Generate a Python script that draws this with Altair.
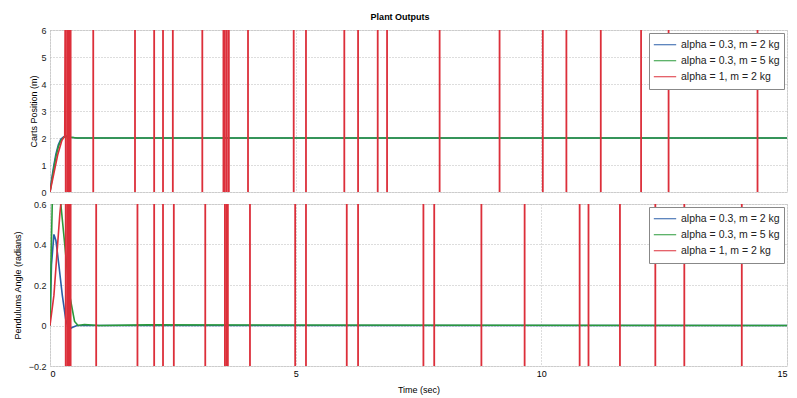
import altair as alt
import pandas as pd

# ---- data ----
series_names = ["alpha = 0.3, m = 2 kg", "alpha = 0.3, m = 5 kg", "alpha = 1, m = 2 kg"]
series_colors = ["#2a5ea8", "#2a9a3a", "#dc2f3a"]

# Cart position (m)
pos_blue_t = [0, 0.04, 0.08, 0.12, 0.17, 0.22, 0.28, 0.34, 0.42, 0.55, 1.0, 15]
pos_blue_y = [0, 0.55, 1.0, 1.4, 1.75, 1.95, 2.05, 2.07, 2.03, 2.0, 2.0, 2.0]
pos_green_t = [0, 0.04, 0.08, 0.12, 0.17, 0.22, 0.28, 0.34, 0.42, 0.55, 1.0, 15]
pos_green_y = [0, 0.45, 0.9, 1.3, 1.68, 1.9, 2.02, 2.06, 2.03, 2.0, 2.0, 2.0]
pos_red_t = [0, 0.08, 0.16, 0.24, 0.30, 0.34]
pos_red_y = [0, 0.7, 1.4, 1.9, 2.08, 20]

# Pendulum angle (radians)
ang_blue_t = [0, 0.03, 0.08, 0.12, 0.18, 0.25, 0.32, 0.38, 0.45, 0.55, 0.7, 1.0, 15]
ang_blue_y = [0, 0.3, 0.45, 0.42, 0.3, 0.15, 0.03, -0.02, -0.01, 0.0, 0.0, 0.0, 0.0]
ang_green_t = [0, 0.02, 0.05, 0.15, 0.22, 0.3, 0.4, 0.5, 0.57, 0.7, 1.0, 2.0, 15]
ang_green_y = [0, 0.3, 0.65, 0.75, 0.6, 0.4, 0.15, 0.02, 0.0, 0.005, 0.0, 0.003, 0.0]
ang_red_t = [0, 0.08, 0.14, 0.2, 0.26, 0.32]
ang_red_y = [0, 0.15, 0.35, 0.55, 0.7, 5]

# Unstable series (alpha = 1) swinging off scale: times of the swings
pos_spikes = [0.32, 0.35, 0.38, 0.40, 0.42, 0.88, 1.73, 2.12, 2.30, 2.50, 3.10,
              3.53, 3.56, 3.60, 3.64, 4.03, 4.96, 5.21, 5.99, 6.27, 6.67, 6.86,
              7.93, 9.15, 10.03, 10.51, 11.21, 12.03, 12.59, 14.40]
ang_spikes = [0.32, 0.35, 0.38, 0.40, 0.42, 0.94, 1.78, 2.12, 2.30, 2.52, 3.16,
              3.56, 3.59, 3.62, 4.07, 4.99, 5.21, 6.04, 6.27, 7.60, 7.82, 8.78,
              9.66, 10.78, 10.96, 11.60, 12.32, 12.91, 14.08]

pos_domain = [0, 6]
ang_domain = [-0.2, 0.6]
pos_ticks = [0, 1, 2, 3, 4, 5, 6]
ang_ticks = [-0.2, 0, 0.2, 0.4, 0.6]
x_ticks = [0, 5, 10, 15]


def series_df(ts, ys):
    rows = []
    for name, t, y in zip(series_names, ts, ys):
        for a, b in zip(t, y):
            rows.append({"t": a, "v": b, "series": name})
    return pd.DataFrame(rows)


def spikes_df(times, dom):
    return pd.DataFrame({"t": times, "v": [dom[0] - 100] * len(times),
                         "hi": [dom[1] + 100] * len(times)})


W, H = 737, 162
color_scale = alt.Scale(domain=series_names, range=series_colors)


def panel(df, sp, dom, ytitle, yticks, show_x, title_pad):
    xaxis = alt.Axis(values=x_ticks, labels=show_x, ticks=False,
                     title="Time (sec)" if show_x else None,
                     grid=True, gridDash=[1, 2], gridColor="#bbbbbb",
                     labelFontSize=9, titleFontSize=9, titleFontWeight="normal",
                     labelPadding=3, titlePadding=7, domain=False,
                     labelOverlap=False)
    yaxis = alt.Axis(values=yticks, ticks=False, title=ytitle, grid=True,
                     gridDash=[1, 2], gridColor="#bbbbbb", labelFontSize=9,
                     titleFontSize=9, titleFontWeight="normal", labelPadding=4,
                     titlePadding=title_pad, domain=False, labelOverlap=False,
                     labelColor="#222222", format="~g")
    xs = alt.Scale(domain=[0, 15], nice=False)
    ys = alt.Scale(domain=dom, nice=False, zero=False)
    X = alt.X("t:Q", scale=xs, axis=xaxis, title=None if not show_x else "Time (sec)")
    Y = alt.Y("v:Q", scale=ys, axis=yaxis, title=ytitle)
    lines = alt.Chart(df).mark_line(clip=True, strokeWidth=1.6).encode(
        x=X, y=Y,
        color=alt.Color("series:N", scale=color_scale, sort=series_names,
                        legend=alt.Legend(title=None, orient="top-right", offset=3,
                                          fillColor="white", strokeColor="#888888",
                                          padding=4, labelFontSize=10.5,
                                          symbolType="stroke", symbolSize=500,
                                          symbolStrokeWidth=1.2, rowPadding=0,
                                          clipHeight=15.5,
                                          labelColor="#222222", labelOffset=4)),
        order=alt.Order("t:Q"),
    )
    rules = alt.Chart(sp).mark_rule(clip=True, strokeWidth=1.8, color=series_colors[2]).encode(
        x=X, y=Y, y2="hi:Q")
    return alt.layer(lines, rules).properties(width=W, height=H)


top = panel(series_df([pos_blue_t, pos_green_t, pos_red_t], [pos_blue_y, pos_green_y, pos_red_y]),
            spikes_df(pos_spikes, pos_domain), pos_domain, "Carts Position (m)",
            pos_ticks, False, 2)
bottom = panel(series_df([ang_blue_t, ang_green_t, ang_red_t], [ang_blue_y, ang_green_y, ang_red_y]),
               spikes_df(ang_spikes, ang_domain), ang_domain, "Pendulums Angle (radians)",
               ang_ticks, True, 6)

chart = alt.vconcat(top, bottom, spacing=1).resolve_scale(
    color="independent", y="independent").resolve_legend(color="independent").properties(
    title=alt.TitleParams("Plant Outputs", fontSize=9, fontWeight="bold", anchor="middle", offset=4),
    padding={"left": 4, "top": 4, "right": 0, "bottom": 0},
).configure_view(stroke="#777777", strokeWidth=1).configure(font="Liberation Sans")

chart.save("out.html", embed_options={"renderer": "svg", "actions": False})
